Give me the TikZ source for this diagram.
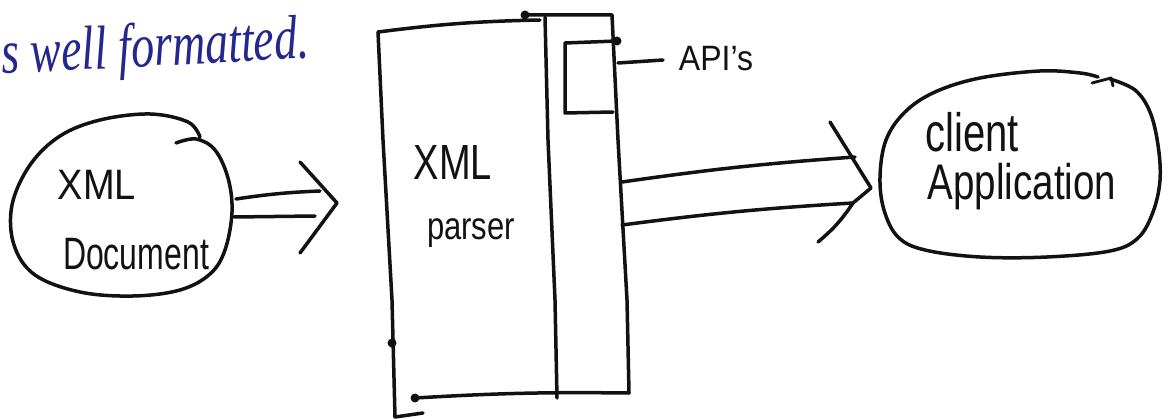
\documentclass[tikz,border=0pt]{standalone}
\usepackage{fontspec}
\setmainfont{Liberation Sans}
\newfontfamily\handserif{Liberation Serif}
\definecolor{ink}{RGB}{18,18,18}
\definecolor{penblue}{RGB}{35,40,140}
\tikzset{
  pen/.style={draw=ink, line width=3.5pt, line cap=round, line join=round},
  hand/.style={text=ink, inner sep=0pt, anchor=base},
  dotink/.style={fill=ink, draw=none},
}
\begin{document}
\begin{tikzpicture}[x=1pt, y=-1pt]
\useasboundingbox[fill=white] (0,0) rectangle (1172,419);

% blue handwritten fragment
\node[text=penblue, inner sep=0pt, anchor=base west, rotate=3,
      font=\handserif\itshape\fontsize{46}{48}\selectfont] (note) at (2,74) {\scalebox{1}[1.35]{s well formatted.}};

% ---------- XML Document blob ----------
\coordinate (docC) at (122,205);
\draw[pen] plot[smooth, tension=0.6] coordinates {
  (200,137) (188,122) (150,114) (100,120) (60,136) (30,165) (12,205)
  (14,245) (35,275) (80,292) (133,296) (180,290) (210,274) (225,250)
  (232,212) (228,178) (215,150) (196,139) (176,143)};
\node[hand, font=\fontsize{38}{40}\selectfont] (docT1) at (97,200) {\scalebox{1}[1.12]{XML}};
\node[hand, font=\fontsize{32}{36}\selectfont] (docT2) at (136,270) {\scalebox{1}[1.42]{Document}};

% ---------- arrow doc -> parser ----------
\coordinate (a1s) at (236,199);
\coordinate (a1e) at (320,191);
\coordinate (a2s) at (234,217);
\coordinate (a2e) at (315,216);
\coordinate (h1a) at (300,162);
\coordinate (h1t) at (337,203);
\coordinate (h1b) at (300,253);
\draw[pen] (a1s) to[bend left=3] (a1e);
\draw[pen] (a2s) -- (a2e);
\draw[pen] (h1a) -- (h1t) -- (h1b);

% ---------- XML Parser box ----------
\coordinate (pTL) at (378,32);
\coordinate (pTM) at (540,20);
\coordinate (pL1) at (383,140);
\coordinate (pL2) at (392,300);
\coordinate (pBL) at (395,417);
\coordinate (pBt) at (423,413);
\coordinate (sTL) at (525,15);
\coordinate (sTR) at (612,15);
\coordinate (sR1) at (618,140);
\coordinate (sR2) at (627,300);
\coordinate (sBR) at (629,393);
\coordinate (pBs) at (415,398);
\coordinate (iT) at (545,17);
\coordinate (i1) at (548,140);
\coordinate (i2) at (555,300);
\coordinate (iB) at (557,398);
\draw[pen] (pTL) to[bend left=3] (pTM);
\draw[pen] (pTL) -- (pL1) -- (pL2) -- (pBL) -- (pBt);
\draw[pen] (sTL) -- (sTR) -- (sR1) -- (sR2) -- (sBR);
\draw[pen] (pBs) to[bend left=2] (sBR);
\draw[pen] (iT) -- (i1) -- (i2) -- (iB);
\fill[dotink] (sTL) circle (4.5);
\fill[dotink] (392,343) circle (4.5);
\fill[dotink] (pBs) circle (4.5);
\node[hand, font=\fontsize{38}{41}\selectfont] (parT1) at (453,180) {\scalebox{1}[1.3]{XML}};
\node[hand, font=\fontsize{31}{34}\selectfont] (parT2) at (471,240) {\scalebox{1}[1.25]{parser}};

% ---------- API box ----------
\coordinate (apTR) at (617,41);
\coordinate (apTL) at (565,43);
\coordinate (apBL) at (565,113);
\coordinate (apBR) at (613,112);
\draw[pen] (apTR) -- (apTL) -- (apBL) -- (apBR);
\fill[dotink] (apTR) circle (4.5);
\node[hand, font=\fontsize{32}{34}\selectfont] (api) at (716,71) {\scalebox{1}[1.1]{API's}};
\coordinate (apiL) at (663,60);
\draw[pen] (618,63) -- (apiL);

% ---------- arrow parser -> client ----------
\coordinate (b1s) at (622,182);
\coordinate (b1e) at (855,157);
\coordinate (b2s) at (622,225);
\coordinate (b2e) at (853,203);
\coordinate (h2a) at (830,122);
\coordinate (h2t) at (871,188);
\coordinate (h2b) at (818,242);
\draw[pen] (b1s) to[bend left=2] (b1e);
\draw[pen] (b2s) to[bend left=2] (b2e);
\draw[pen] (h2a) -- (h2t) -- (b2e) to[bend left=8] (h2b);

% ---------- Client Application blob ----------
\coordinate (cliC) at (1020,165);
\draw[pen] plot[smooth, tension=0.6] coordinates {
  (1110,79) (1135,90) (1150,112) (1158,145) (1160,180) (1153,212)
  (1138,238) (1110,251) (1047,257) (980,257) (925,250) (898,237)
  (884,210) (880,177) (886,140) (905,112) (935,92) (980,78) (1040,71)
  (1080,73) (1098,77)};
\draw[pen, line width=2.8pt] (1092,83) -- (1111,78) -- (1113,86);
\node[hand, font=\fontsize{40}{42}\selectfont] (cliT1) at (972,152) {\scalebox{1}[1.35]{client}};
\node[hand, font=\fontsize{38.5}{40}\selectfont] (cliT2) at (1022,200) {\scalebox{1}[1.3]{Application}};
\end{tikzpicture}
\end{document}
